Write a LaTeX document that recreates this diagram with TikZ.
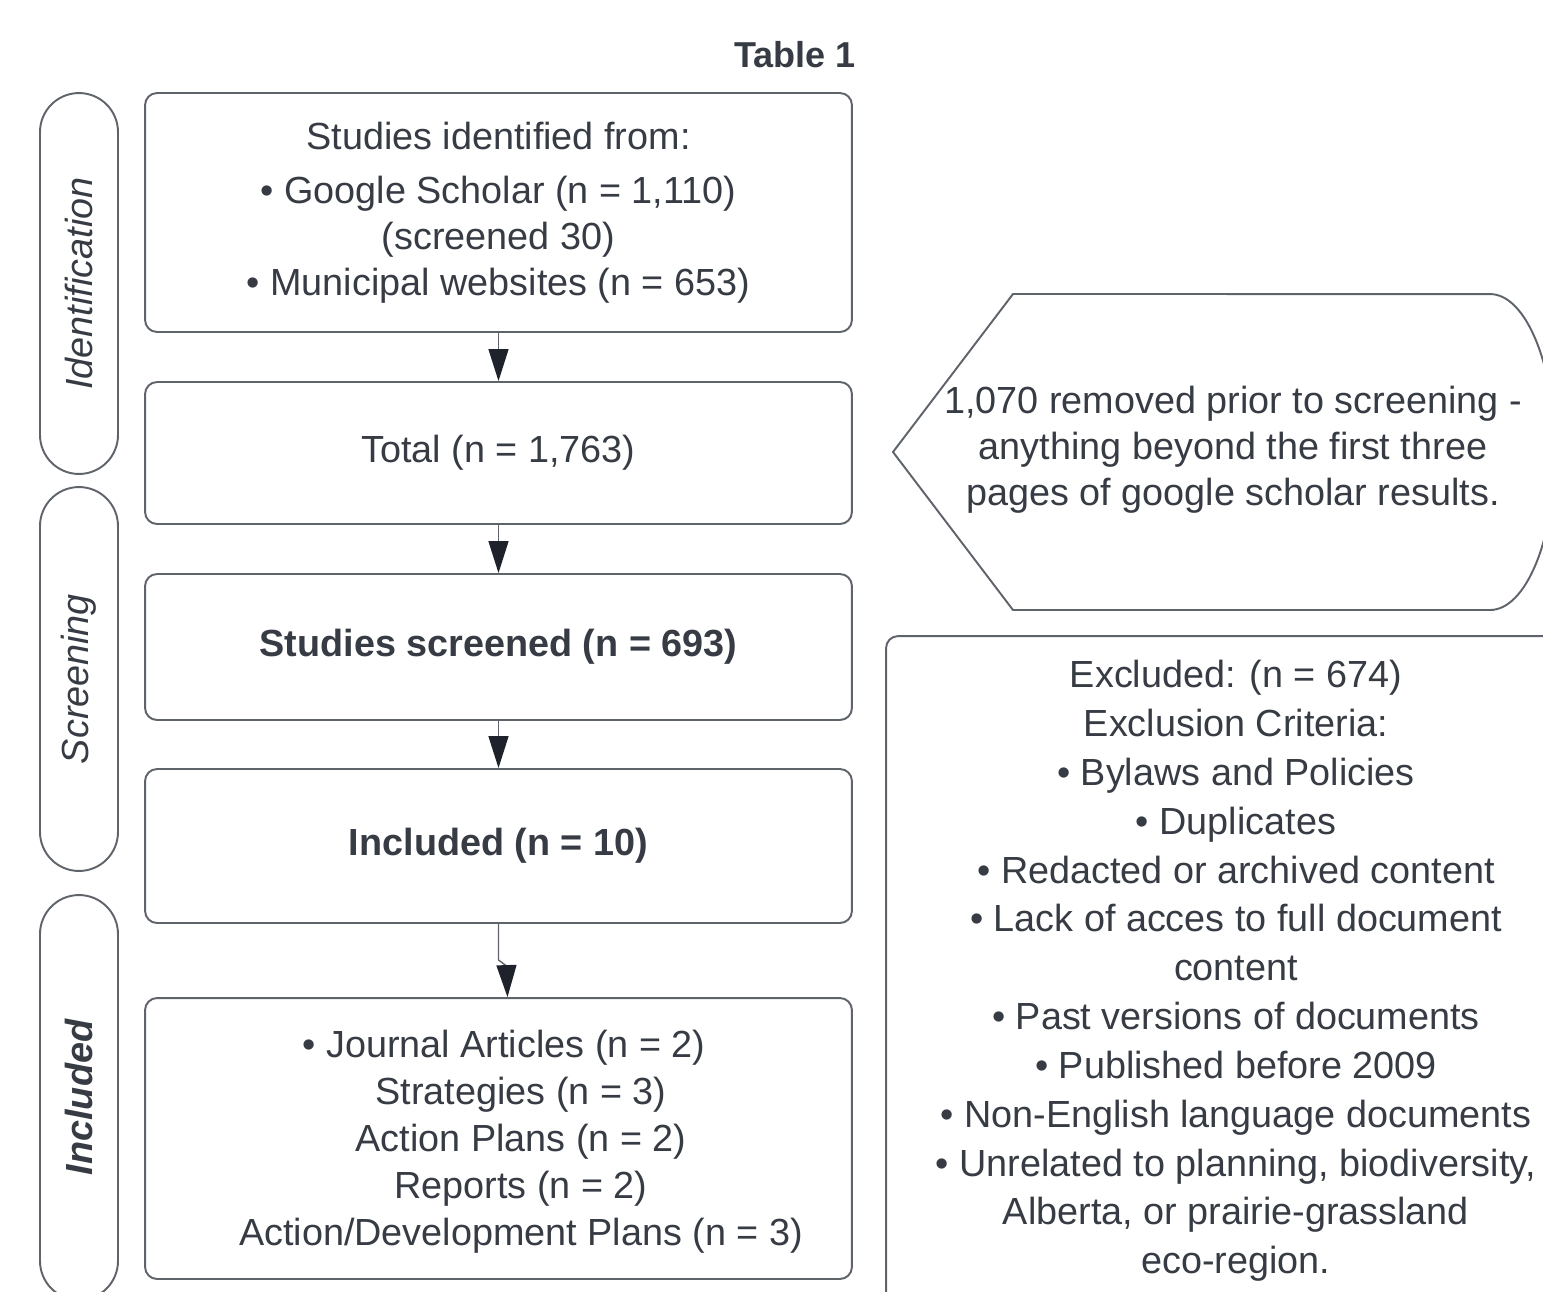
\documentclass[tikz,border=0pt]{standalone}
\usepackage{fontspec}
\setmainfont{Liberation Sans}
\usetikzlibrary{arrows.meta}
\definecolor{txt}{RGB}{55,60,68}
\definecolor{edge}{RGB}{95,100,106}
\definecolor{tipc}{RGB}{30,35,43}
\newcommand{\bodyfont}{\fontsize{21.5}{26.2}\selectfont}
\tikzset{
  box/.style={draw=edge, line width=1.1pt, rounded corners=0.24cm, align=center, minimum width=14.14cm, inner sep=0pt},
  pill/.style={draw=edge, line width=1.1pt, rounded corners=0.78cm, minimum height=1.56cm, rotate=90, inner sep=0pt},
  flow/.style={draw=edge, line width=0.8pt, line cap=round, -{Triangle[width=0.4cm,length=0.64cm,color=tipc]}},
}

\begin{document}
\begin{tikzpicture}[x=0.02cm, y=-0.02cm, line join=round, every node/.style={text=txt, font=\bodyfont}]
\clip (0,0) rectangle (1543,1292);
\fill[white] (0,0) rectangle (1543,1292);

% title
\node[font=\fontsize{20.5}{25}\selectfont\bfseries] (title) at (795,55) {Table 1};

% phase pills
\node[pill, minimum width=7.62cm] (pid) at (79,283.5) {\itshape Identification};
\node[pill, minimum width=7.68cm] (pscr) at (79,679) {\itshape Screening};
\node[pill, minimum width=8.1cm] (pinc) at (79,1097.5) {\bfseries\itshape Included};

% main column
\node[box, minimum height=4.78cm] (ident) at (498.5,212.5)
  {Studies identified from:\\[4.5pt] • Google Scholar (n = 1,110)\\ (screened 30)\\ • Municipal websites (n = 653)};
\node[box, minimum height=2.84cm] (total) at (498.5,453) {Total (n = 1,763)};
\node[box, minimum height=2.92cm, font=\bodyfont\bfseries] (screened) at (498.5,647) {Studies screened (n = 693)};
\node[box, minimum height=3.08cm, font=\bodyfont\bfseries] (incl) at (498.5,846) {Included (n = 10)};
\node[box, minimum height=5.62cm] (types) at (498.5,1138.5) {};
\node[align=center, font=\fontsize{21.5}{26.7}\selectfont] (typelist) at (521,1142)
  {\hspace*{-0.68cm}• Journal Articles (n = 2)\\ Strategies (n = 3)\\ Action Plans (n = 2)\\ Reports (n = 2)\\ Action/Development Plans (n = 3)};

\draw[flow] (ident.south) -- (total.north);
\draw[flow] (total.south) -- (screened.north);
\draw[flow] (screened.south) -- (incl.north);
\draw[flow] (incl.south) -- ++(0,36) -- ++(8,6) -- ([xshift=0.18cm]types.north);

% removed before screening
\draw[edge, line width=1.1pt] (1013,294) -- (893,452) -- (1013,610) -- (1490,610)
  arc[start angle=-90, end angle=90, x radius=1.3cm, y radius=3.16cm] -- cycle;
\node[align=center] (removed) at (1233,450)
  {1,070 removed prior to screening -\\ anything beyond the first three\\ pages of google scholar results.};

% exclusions
\node[box, minimum width=14cm, minimum height=13.4cm, font=\fontsize{21.5}{27.8}\selectfont] (excl) at (1236,971)
  {Excluded: (n = 674)\\ Exclusion Criteria:\\ • Bylaws and Policies\\ • Duplicates\\ • Redacted or archived content\\
   • Lack of acces to full document\\ content\\ • Past versions of documents\\ • Published before 2009\\
   • Non-English language documents\\ • Unrelated to planning, biodiversity,\\ Alberta, or prairie-grassland\\ eco-region.};
\end{tikzpicture}
\end{document}
